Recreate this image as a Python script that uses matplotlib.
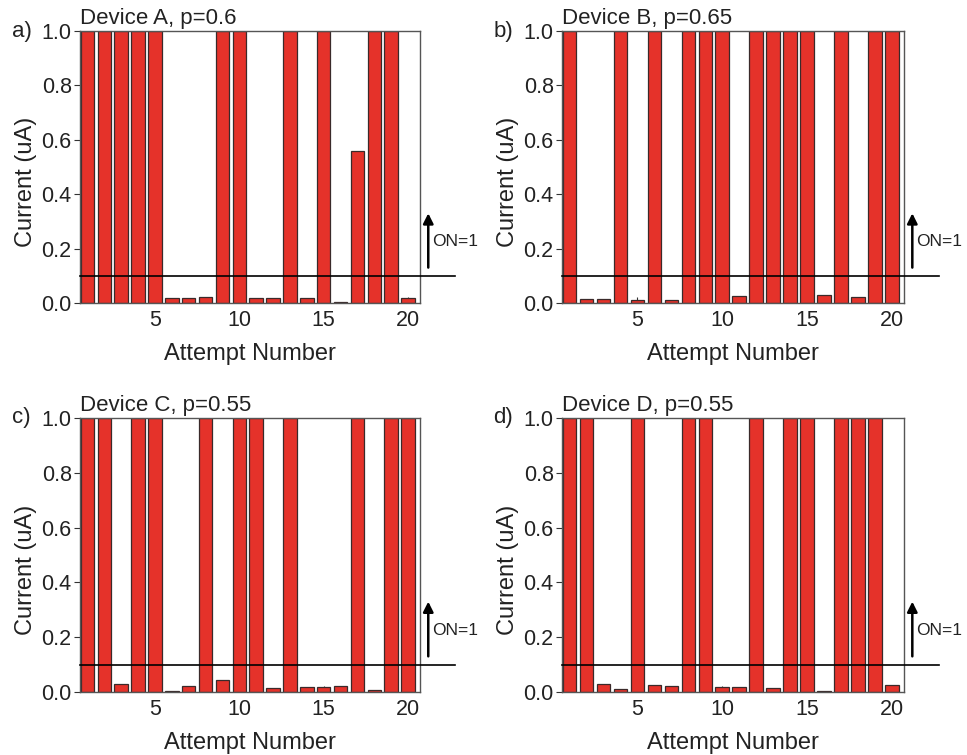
import matplotlib.pyplot as plt
import numpy as np

plt.rcParams['font.family'] = ['Liberation Sans', 'DejaVu Sans']

attempts = np.arange(1, 21)

# current readings (uA), ON states read as 1.0
current_a = [1.0, 1.0, 1.0, 1.0, 1.0, 0.02, 0.02, 0.022, 1.0, 1.0,
             0.018, 0.017, 1.0, 0.02, 1.0, 0.003, 0.56, 1.0, 1.0, 0.02]
current_b = [1.0, 0.015, 0.015, 1.0, 0.012, 1.0, 0.01, 1.0, 1.0, 1.0,
             0.025, 1.0, 1.0, 1.0, 1.0, 0.028, 1.0, 0.022, 1.0, 1.0]
current_c = [1.0, 1.0, 0.028, 1.0, 1.0, 0.002, 0.022, 1.0, 0.042, 1.0,
             1.0, 0.016, 1.0, 0.018, 0.018, 0.022, 1.0, 0.008, 1.0, 1.0]
current_d = [1.0, 1.0, 0.03, 0.012, 1.0, 0.025, 0.022, 1.0, 1.0, 0.02,
             0.02, 1.0, 0.016, 1.0, 1.0, 0.003, 1.0, 1.0, 1.0, 0.025]

tags = ['a)', 'b)', 'c)', 'd)']
titles = ['Device A, p=0.6', 'Device B, p=0.65',
          'Device C, p=0.55', 'Device D, p=0.55']
series = [current_a, current_b, current_c, current_d]
threshold = 0.1

W, H = 967, 755
boxes = [(80, 303, 340, 272), (562, 303, 342, 272),
         (80, 692, 340, 274), (562, 692, 342, 274)]

fig = plt.figure(figsize=(W / 100, H / 100), dpi=100)

for tag, title, vals, (x0, yb, w, h) in zip(tags, titles, series, boxes):
    ax = fig.add_axes([x0 / W, (H - yb) / H, w / W, h / H])
    ax.bar(attempts, vals, width=0.8, color='#e5322a',
           edgecolor='#3a2a2a', linewidth=0.9, zorder=2)
    ax.set_xlim(0.555, 20.71)
    ax.set_ylim(0, 1.0)
    ax.set_xticks([5, 10, 15, 20])
    ax.set_yticks(np.arange(0, 1.01, 0.2))
    ax.set_yticklabels(['%.1f' % v for v in np.arange(0, 1.01, 0.2)])
    ax.tick_params(labelsize=15.5, length=4, color='#333333',
                   labelcolor='#222222')
    ax.tick_params(axis='x', direction='in', pad=5)
    ax.tick_params(axis='y', direction='out', pad=2)
    for s in ax.spines.values():
        s.set_color('#555555')
        s.set_linewidth(1.0)
    ax.set_xlabel('Attempt Number', fontsize=17, labelpad=9, color='#222222')
    ax.set_ylabel('Current (uA)', fontsize=17, color='#222222')
    ax.yaxis.set_label_coords(-0.126, 0.445)
    ax.text(0.0, 1.008, title, transform=ax.transAxes, fontsize=16,
            ha='left', va='bottom', color='#222222')
    ax.text(-0.2, 1.0, tag, transform=ax.transAxes, fontsize=16,
            ha='left', va='center', color='#222222')
    # threshold line running past the right edge, with ON marker
    ax.plot([0.555, 22.8], [threshold, threshold], color='black', lw=1.2,
            clip_on=False, zorder=3)
    ax.annotate('', xy=(21.2, 0.34), xytext=(21.2, 0.12),
                arrowprops=dict(arrowstyle='-|>', color='black', lw=1.8,
                                mutation_scale=15),
                annotation_clip=False)
    ax.text(21.45, 0.225, 'ON=1', fontsize=12.5, ha='left', va='center',
            color='#222222')

fig.savefig('out.png', dpi=100)
